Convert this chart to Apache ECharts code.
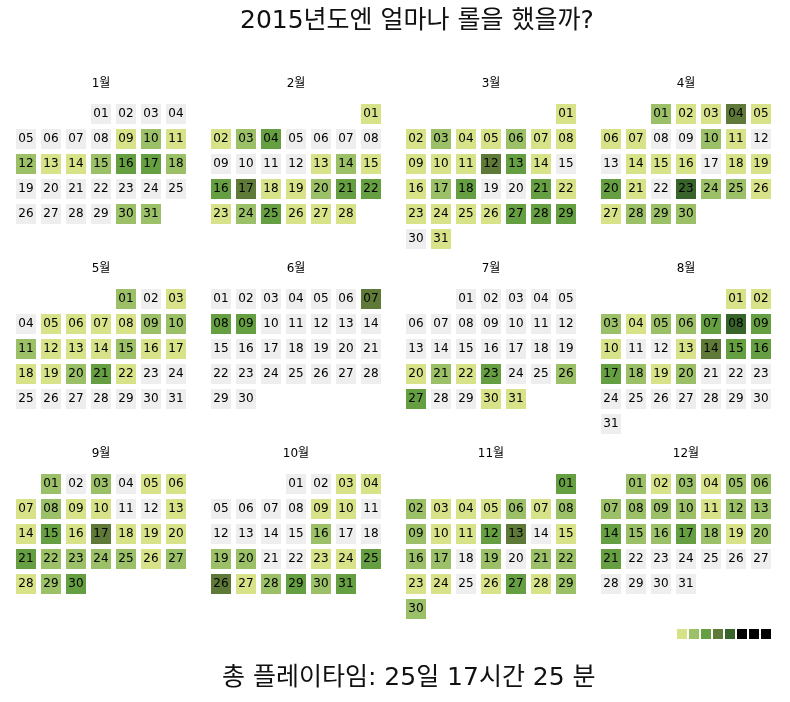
<!DOCTYPE html>
<html>
<head>
<meta charset="utf-8">
<script src="https://cdn.jsdelivr.net/npm/echarts@6/dist/echarts.min.js"></script>
<style>html,body{margin:0;padding:0;background:#fff;}#main{width:790px;height:702px;}</style>
</head>
<body>
<div id="main"></div>
<script>
// Play time per day (hours)
const year = 2015;
const monthLabels = ['1월','2월','3월','4월','5월','6월','7월','8월','9월','10월','11월','12월'];
const jan = [0,0,0,0,0,0,0,0,1.5,3,1.5,3,1.5,1.5,3,5,5,3,0,0,0,0,0,0,0,0,0,0,0,3,3];
const feb = [1.5,1.5,3,5,0,0,0,0,0,0,0,0,1.5,3,1.5,5,7,1.5,1.5,3,5,5,1.5,3,5,1.5,1.5,1.5];
const mar = [1.5,1.5,3,1.5,1.5,3,1.5,1.5,1.5,1.5,1.5,7,5,1.5,0,1.5,3,5,0,0,5,1.5,1.5,1.5,1.5,1.5,5,5,5,0,1.5];
const apr = [3,1.5,1.5,7,1.5,1.5,1.5,0,0,3,1.5,0,0,1.5,1.5,1.5,0,1.5,1.5,5,1.5,0,9,3,3,1.5,1.5,3,3,3];
const may = [3,0,1.5,0,1.5,1.5,1.5,1.5,3,3,3,1.5,1.5,1.5,3,1.5,1.5,1.5,1.5,3,5,1.5,0,0,0,0,0,0,0,0,0];
const jun = [0,0,0,0,0,0,7,5,5,0,0,0,0,0,0,0,0,0,0,0,0,0,0,0,0,0,0,0,0,0];
const jul = [0,0,0,0,0,0,0,0,0,0,0,0,0,0,0,0,0,0,0,1.5,3,1.5,5,0,0,3,5,0,0,1.5,1.5];
const aug = [1.5,1.5,3,1.5,3,3,5,9,5,1.5,0,0,1.5,7,5,5,5,3,1.5,3,0,0,0,0,0,0,0,0,0,0,0];
const sep = [3,0,3,0,1.5,1.5,1.5,3,1.5,1.5,0,0,1.5,1.5,5,1.5,7,1.5,1.5,1.5,5,3,3,3,3,1.5,3,1.5,3,5];
const oct = [0,0,1.5,1.5,0,0,0,0,1.5,1.5,0,0,0,0,0,3,0,0,3,3,0,0,1.5,1.5,5,7,1.5,3,5,3,5];
const nov = [5,3,1.5,1.5,1.5,3,1.5,3,3,1.5,1.5,5,7,0,1.5,3,3,0,3,0,3,3,1.5,1.5,0,1.5,5,1.5,3,3];
const dec = [3,1.5,3,1.5,3,3,3,3,3,3,1.5,3,3,5,3,3,5,3,1.5,3,5,0,0,0,0,0,0,0,0,0,0];
const months = [jan,feb,mar,apr,may,jun,jul,aug,sep,oct,nov,dec];
const levelColors = ['#d8e288','#9cc068','#669e42','#5f7a38','#38632a','#000000','#000000','#000000'];
const levelBounds = [0,2,4,6,8,10,12,14];
const titleText = '2015년도엔 얼마나 롤을 했을까?';
const footerText = '총 플레이타임: 25일 17시간 25 분';

function pad(n){ return (n < 10 ? '0' : '') + n; }

const calendars = [];
const series = [];
months.forEach(function(vals, i){
  const col = i % 4, row = Math.floor(i / 4);
  calendars.push({
    orient: 'vertical',
    range: year + '-' + pad(i + 1),
    cellSize: [25, 25],
    left: 13.5 + 195 * col,
    top: 101.5 + 185 * row,
    splitLine: { show: false },
    itemStyle: { color: '#eeeeee', borderColor: '#ffffff', borderWidth: 5 },
    dayLabel: { show: false, firstDay: 1 },
    monthLabel: { show: false },
    yearLabel: {
      show: true, position: 'top', margin: 12, formatter: monthLabels[i],
      fontSize: 12, color: '#000', fontWeight: 'normal',
      fontFamily: 'DejaVu Sans, Noto Sans CJK KR'
    }
  });
  const data = vals.map(function(v, d){
    return [year + '-' + pad(i + 1) + '-' + pad(d + 1), v];
  });
  series.push({
    type: 'heatmap',
    coordinateSystem: 'calendar',
    calendarIndex: i,
    data: data,
    itemStyle: { borderWidth: 0 },
    label: {
      show: true, color: '#000', fontSize: 12, fontFamily: 'DejaVu Sans',
      formatter: function(p){ return p.value[0].slice(8); }
    },
    emphasis: { disabled: true }
  });
});

const pieces = levelColors.map(function(c, k){
  const p = { gt: levelBounds[k], color: c };
  if (k < levelBounds.length - 1) p.lte = levelBounds[k + 1];
  return p;
});

const chart = echarts.init(document.getElementById('main'));
chart.setOption({
  animation: false,
  backgroundColor: '#fff',
  title: [
    { text: titleText, left: 235, top: 4,
      textStyle: { fontSize: 25, fontWeight: 'normal', color: '#111', fontFamily: 'DejaVu Sans, Noto Sans CJK KR' } },
    { text: footerText, left: 217, top: 661,
      textStyle: { fontSize: 25, fontWeight: 'normal', color: '#111', fontFamily: 'DejaVu Sans, Noto Sans CJK KR' } }
  ],
  tooltip: { show: false },
  visualMap: {
    type: 'piecewise',
    orient: 'horizontal',
    left: 677, top: 629,
    padding: 0,
    itemWidth: 10, itemHeight: 10, itemGap: 2,
    itemSymbol: 'rect',
    showLabel: false,
    selectedMode: false,
    pieces: pieces,
    outOfRange: { color: '#eeeeee' }
  },
  calendar: calendars,
  series: series
});
</script>
</body>
</html>
